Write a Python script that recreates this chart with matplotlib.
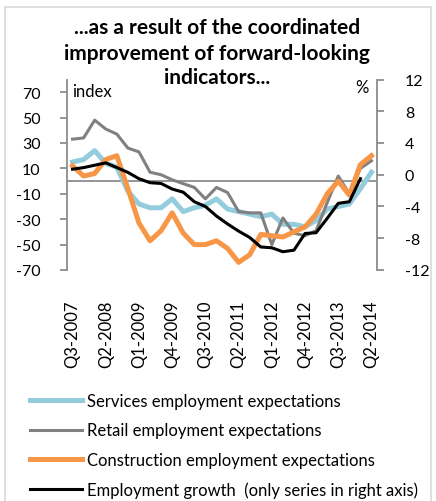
import numpy as np
import matplotlib.pyplot as plt
from matplotlib.patches import Rectangle

plt.rcParams['font.family'] = ['Lato', 'DejaVu Sans']
plt.rcParams['axes.unicode_minus'] = False

# quarterly observations, Q3-2007 .. Q2-2014
quarters = ['Q3-2007', 'Q4-2007', 'Q1-2008', 'Q2-2008', 'Q3-2008', 'Q4-2008',
            'Q1-2009', 'Q2-2009', 'Q3-2009', 'Q4-2009', 'Q1-2010', 'Q2-2010',
            'Q3-2010', 'Q4-2010', 'Q1-2011', 'Q2-2011', 'Q3-2011', 'Q4-2011',
            'Q1-2012', 'Q2-2012', 'Q3-2012', 'Q4-2012', 'Q1-2013', 'Q2-2013',
            'Q3-2013', 'Q4-2013', 'Q1-2014', 'Q2-2014']

# left axis, index
services = [15, 17, 24, 14, 11, -8, -18, -21, -21, -14, -24, -21, -19, -14,
            -22, -24, -26, -28, -26, -34, -34, -36, -31, -22, -20, -18, -6, 7]
retail = [33, 34, 48, 41, 37, 26, 23, 7, 5, 1, -2, -5, -14, -5,
          -9, -24, -25, -25, -50, -29, -41, -43, -39, -17, 4, -10, 10, 16]
construction = [12, 4, 6, 17, 20, -6, -33, -47, -39, -25, -41, -50, -50, -47,
                -53, -64, -58, -42, -43, -44, -40, -36, -26, -10, 0, -11, 13, 20]
# right axis, %
employment = [0.7, 0.9, 1.2, 1.5, 0.9, 0.3, -0.5, -1.0, -1.1, -1.8, -2.2, -3.4,
              -4.0, -5.2, -6.2, -7.1, -7.9, -9.1, -9.2, -9.7, -9.5, -7.4, -7.3,
              -5.5, -3.6, -3.4, -0.5, np.nan]

names = ['Services employment expectations',
         'Retail employment expectations',
         'Construction employment expectations',
         'Employment growth  (only series in right axis)']

title_lines = ['...as a result of the coordinated',
               'improvement of forward-looking',
               'indicators...']

W, H = 436, 502
grey = '#8c8c8c'

fig = plt.figure(figsize=(W / 100, H / 100), dpi=100)
ax = fig.add_axes([67 / W, 1 - 271 / H, 310 / W, 190.5 / H])
ax2 = ax.twinx()

x = np.arange(len(quarters))
l1, = ax.plot(x, services, color='#93cddd', lw=3.6)
l2, = ax.plot(x, retail, color='#808080', lw=2.2)
l3, = ax.plot(x, construction, color='#f79646', lw=3.6)
l4, = ax2.plot(x, employment, color='black', lw=2.2)

ax.axhline(0, color=grey, lw=1.3, zorder=0)

ax.set_xlim(-0.5, len(quarters) - 0.5)
ax.set_ylim(-70, 80)
ax.set_yticks(np.arange(-70, 71, 20))
ax2.set_ylim(-12, 12)
ax2.set_yticks(np.arange(-12, 13, 4))

ax.set_xticks(x[::3])
ax.set_xticklabels(quarters[::3], rotation=90)
ax.tick_params(axis='x', length=0, pad=21, labelsize=12)
ax.tick_params(axis='y', direction='out', length=5, width=1.3, color=grey,
               pad=14, labelsize=11.5)
ax2.tick_params(axis='y', direction='out', length=5, width=1.3, color=grey,
                pad=15, labelsize=11.5)

for s in ['top', 'bottom', 'right']:
    ax.spines[s].set_visible(False)
for s in ['top', 'bottom', 'left']:
    ax2.spines[s].set_visible(False)
ax.spines['left'].set_color(grey)
ax.spines['left'].set_linewidth(1.3)
ax2.spines['right'].set_color(grey)
ax2.spines['right'].set_linewidth(1.3)

# axis unit labels inside the plot area
fig.text(72 / W, 1 - 97 / H, 'index', ha='left', va='baseline', fontsize=12)
fig.text(369 / W, 1 - 93 / H, '%', ha='right', va='baseline', fontsize=12)

# three-line title, one baseline per line
for line, base in zip(title_lines, [34.5, 59.5, 84.5]):
    fig.text(217 / W, 1 - base / H, line, ha='center', va='baseline',
             fontsize=15, fontweight='bold')

fig.legend([l1, l2, l3, l4], names, loc='upper left',
           bbox_to_anchor=(30 / W, 1 - 394 / H), frameon=False,
           fontsize=12, handlelength=3.1, handletextpad=0.3,
           labelspacing=0.8, borderpad=0, borderaxespad=0)

fig.patches.append(Rectangle((5 / W, -0.1), 426 / W, 1.1 - 8 / H,
                             transform=fig.transFigure, fill=False,
                             edgecolor='#d9d9d9', lw=1.2))

fig.savefig('out.png', dpi=100)
